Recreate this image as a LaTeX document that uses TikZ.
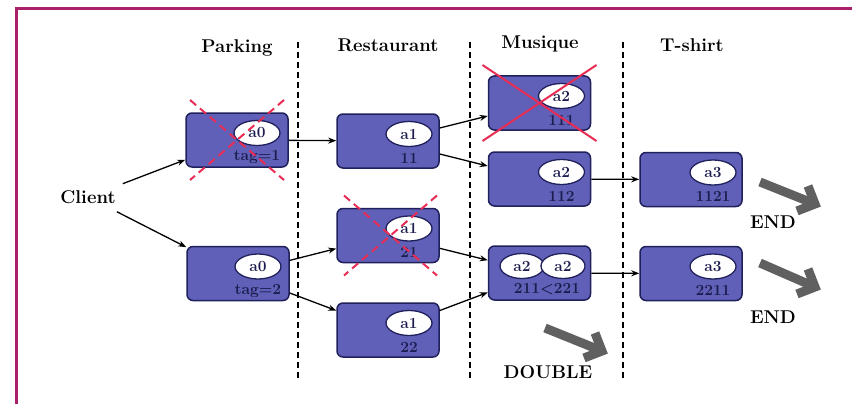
\documentclass[tikz,border=0pt]{standalone}
\usetikzlibrary{shapes.geometric,arrows.meta}
\definecolor{boxblue}{RGB}{96,96,184}
\definecolor{boxedge}{RGB}{32,32,92}
\definecolor{boxtext}{RGB}{28,28,78}
\definecolor{crossred}{RGB}{232,44,84}
\definecolor{framecol}{RGB}{168,32,106}
\definecolor{biggray}{RGB}{96,96,96}
\tikzset{
  bigtxt/.style={font=\fontsize{18.5}{21}\selectfont\bfseries, inner sep=0pt},
  stbox/.style={rectangle, rounded corners=6pt, fill=boxblue, draw=boxedge,
    line width=1.5pt, minimum width=102pt, minimum height=54pt},
  agent/.style={ellipse, fill=white, draw=boxedge, line width=1.3pt,
    minimum width=46pt, minimum height=25pt, inner sep=0pt,
    font=\fontsize{15.5}{17}\selectfont\bfseries, text=boxtext},
  tagtxt/.style={font=\fontsize{15.5}{17}\selectfont\bfseries, text=boxtext, inner sep=0pt},
  link/.style={draw=black, line width=1.3pt, -{Stealth[length=8pt,width=6pt]}},
  lane/.style={draw=black, line width=1.8pt, dash pattern=on 6pt off 4pt},
  killdash/.style={draw=crossred, line width=2pt, dash pattern=on 8pt off 5pt},
  killsolid/.style={draw=crossred, line width=2pt},
  bigarrow/.style={draw=biggray, line width=9pt, line join=miter}
}
\begin{document}
\begin{tikzpicture}[x=1pt,y=-1pt]
\useasboundingbox (0,0) rectangle (852,404);

% frame
\draw[framecol, line width=2.7pt] (16.2,404) -- (16.2,8.7) -- (852,8.7);

% column headings
\node[bigtxt, anchor=base] (hpark) at (237,53) {Parking};
\node[bigtxt, anchor=base] (hrest) at (388,52) {Restaurant};
\node[bigtxt, anchor=base] (hmus)  at (540,49) {Musique};
\node[bigtxt, anchor=base] (htee)  at (692,52) {T-shirt};

% lane separators
\draw[lane] (298,42) -- (298,380);
\draw[lane] (470,42) -- (470,380);
\draw[lane] (623,42) -- (623,380);

% client
\node[bigtxt, inner xsep=7pt, inner ysep=8pt] (client) at (88,197) {Client};

% state boxes
\node[stbox] (p1) at (237,140) {};
\node[stbox] (p2) at (238,273.5) {};
\node[stbox] (r1) at (388,141) {};
\node[stbox] (r2) at (388,235.5) {};
\node[stbox] (r3) at (388,330) {};
\node[stbox] (m1) at (539.5,103) {};
\node[stbox] (m2) at (539.5,179) {};
\node[stbox] (m3) at (539.5,273) {};
\node[stbox] (t1) at (691,179.5) {};
\node[stbox] (t2) at (691,273.5) {};

% agents and tags
\node[agent] (p1a) at ([shift={(20,-7)}]p1.center) {a0};
\node[tagtxt] (p1t) at ([shift={(20,17)}]p1.center) {tag=1};
\node[agent] (p2a) at ([shift={(20,-7)}]p2.center) {a0};
\node[tagtxt] (p2t) at ([shift={(20,17)}]p2.center) {tag=2};

\node[agent] (r1a) at ([shift={(21,-7)}]r1.center) {a1};
\node[tagtxt] (r1t) at ([shift={(21,17)}]r1.center) {11};
\node[agent] (r2a) at ([shift={(21,-7)}]r2.center) {a1};
\node[tagtxt] (r2t) at ([shift={(21,17)}]r2.center) {21};
\node[agent] (r3a) at ([shift={(21,-7)}]r3.center) {a1};
\node[tagtxt] (r3t) at ([shift={(21,17)}]r3.center) {22};

\node[agent] (m1a) at ([shift={(22,-7)}]m1.center) {a2};
\node[tagtxt] (m1t) at ([shift={(22,17)}]m1.center) {111};
\node[agent] (m2a) at ([shift={(22,-7)}]m2.center) {a2};
\node[tagtxt] (m2t) at ([shift={(22,17)}]m2.center) {112};
\node[agent, minimum width=44pt] (m3a) at ([shift={(-17.5,-7)}]m3.center) {a2};
\node[agent, minimum width=44pt] (m3b) at ([shift={(23.5,-7)}]m3.center) {a2};
\node[tagtxt] (m3t) at ([shift={(7.5,16)}]m3.center) {211<221};

\node[agent] (t1a) at ([shift={(22,-7)}]t1.center) {a3};
\node[tagtxt] (t1t) at ([shift={(22,17)}]t1.center) {1121};
\node[agent] (t2a) at ([shift={(22,-7)}]t2.center) {a3};
\node[tagtxt] (t2t) at ([shift={(22,17)}]t2.center) {2211};

% transitions
\draw[link] (client) -- (p1);
\draw[link] (client) -- (p2);
\draw[link] (p1) -- (r1);
\draw[link] (p2) -- (r2);
\draw[link] (p2) -- (r3);
\draw[link] (r1) -- (m1);
\draw[link] (r1) -- (m2);
\draw[link] (r2) -- (m3);
\draw[link] (r3) -- (m3);
\draw[link] (m2) -- (t1);
\draw[link] (m3) -- (t2);

% discarded states
\draw[killdash] ([shift={(-47,-40)}]p1.center) -- ([shift={(47,40)}]p1.center);
\draw[killdash] ([shift={(47,-40)}]p1.center) -- ([shift={(-47,40)}]p1.center);
\draw[killdash] ([shift={(-44,-40)}]r2.center) -- ([shift={(49,40)}]r2.center);
\draw[killdash] ([shift={(49,-40)}]r2.center) -- ([shift={(-44,40)}]r2.center);
\draw[killsolid] ([shift={(-57,-38)}]m1.center) -- ([shift={(57,38)}]m1.center);
\draw[killsolid] ([shift={(57,-38)}]m1.center) -- ([shift={(-57,38)}]m1.center);

% outcome arrows
\coordinate (e1s) at (760,182);
\coordinate (e1t) at (815,204);
\coordinate (e2s) at (760,263);
\coordinate (e2t) at (815,287);
\coordinate (dbs) at (545,328);
\coordinate (dbt) at (602,351);
\draw[bigarrow] (e1s) -- (e1t);
\draw[bigarrow] (808,186) -- (e1t) -- (797,211);
\draw[bigarrow] (e2s) -- (e2t);
\draw[bigarrow] (808,269) -- (e2t) -- (797,294);
\draw[bigarrow] (dbs) -- (dbt);
\draw[bigarrow] (595,333) -- (dbt) -- (584,358);

\node[bigtxt] (end1) at (773,222) {END};
\node[bigtxt] (end2) at (773,317) {END};
\node[bigtxt] (dbl) at (548,372) {DOUBLE};
\end{tikzpicture}
\end{document}
